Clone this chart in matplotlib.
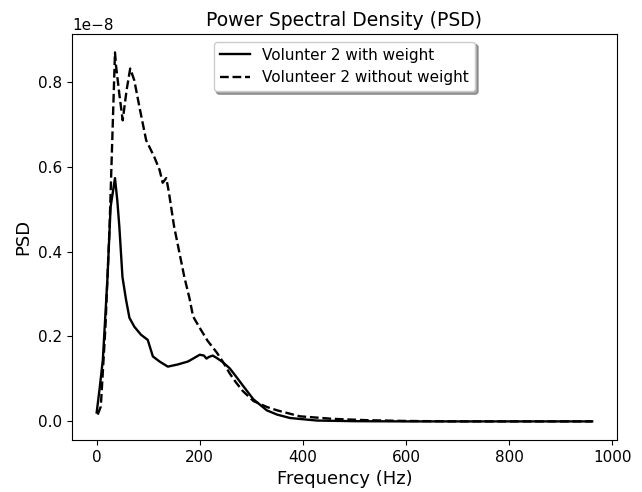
import numpy as np
import matplotlib
matplotlib.use("Agg")
import matplotlib.pyplot as plt
from matplotlib.ticker import ScalarFormatter

# PSD values in units of 1e-8
freq_w = [0, 6, 12, 21, 27, 35.5, 40, 44, 50, 57, 63.5, 73, 86, 99, 109, 122, 138,
          157, 177, 190, 200, 208, 213, 218, 225, 232, 243, 258, 272, 285, 297, 304,
          330, 350, 375, 427, 500, 600, 961]
psd_w = [0.021, 0.08, 0.146, 0.34, 0.505, 0.573, 0.52, 0.458, 0.34, 0.286, 0.244,
         0.223, 0.204, 0.192, 0.153, 0.141, 0.129, 0.134, 0.141, 0.150, 0.157, 0.155,
         0.148, 0.152, 0.155, 0.150, 0.141, 0.125, 0.103, 0.082, 0.063, 0.052, 0.026,
         0.016, 0.008, 0.002, 0.0005, 0.0, 0.0]

freq_wo = [2, 8, 17, 25, 35.5, 37.5, 44, 50.5, 58, 65, 73, 83, 96, 112, 122, 128, 135,
           140, 150, 160, 170, 180, 187, 200, 215, 233, 245, 258, 270, 283, 304, 330,
           350, 394, 458, 520, 600, 700, 961]
psd_wo = [0.016, 0.035, 0.223, 0.458, 0.869, 0.838, 0.77, 0.709, 0.78, 0.831, 0.803,
          0.74, 0.662, 0.622, 0.592, 0.562, 0.573, 0.54, 0.46, 0.40, 0.34, 0.29, 0.247,
          0.22, 0.19, 0.162, 0.14, 0.113, 0.092, 0.072, 0.048, 0.034, 0.026, 0.012,
          0.006, 0.003, 0.001, 0.0, 0.0]
SCALE = 1e-8

fig = plt.figure(figsize=(6.42, 4.92), dpi=100)
ax = fig.add_axes([0.112, 0.106, 0.849, 0.825])
ax.plot(freq_w, np.array(psd_w) * SCALE, "k-", lw=1.7, label="Volunter 2 with weight")
ax.plot(freq_wo, np.array(psd_wo) * SCALE, "k--", lw=1.7, label="Volunteer 2 without weight")
ax.set_title("Power Spectral Density (PSD)", fontsize=13.5)
ax.set_xlabel("Frequency (Hz)", fontsize=13)
ax.set_ylabel("PSD", fontsize=13)
ax.tick_params(labelsize=11)
ax.set_xticks([0, 200, 400, 600, 800, 1000])
fmt = ScalarFormatter()
fmt.set_powerlimits((-8, -8))  # keep the 1e-8 offset like the original
ax.yaxis.set_major_formatter(fmt)
ax.yaxis.get_offset_text().set_fontsize(11)
ax.legend(loc="upper center", shadow=True, fancybox=True, fontsize=11, framealpha=1)
fig.savefig("out.png", dpi=100)
